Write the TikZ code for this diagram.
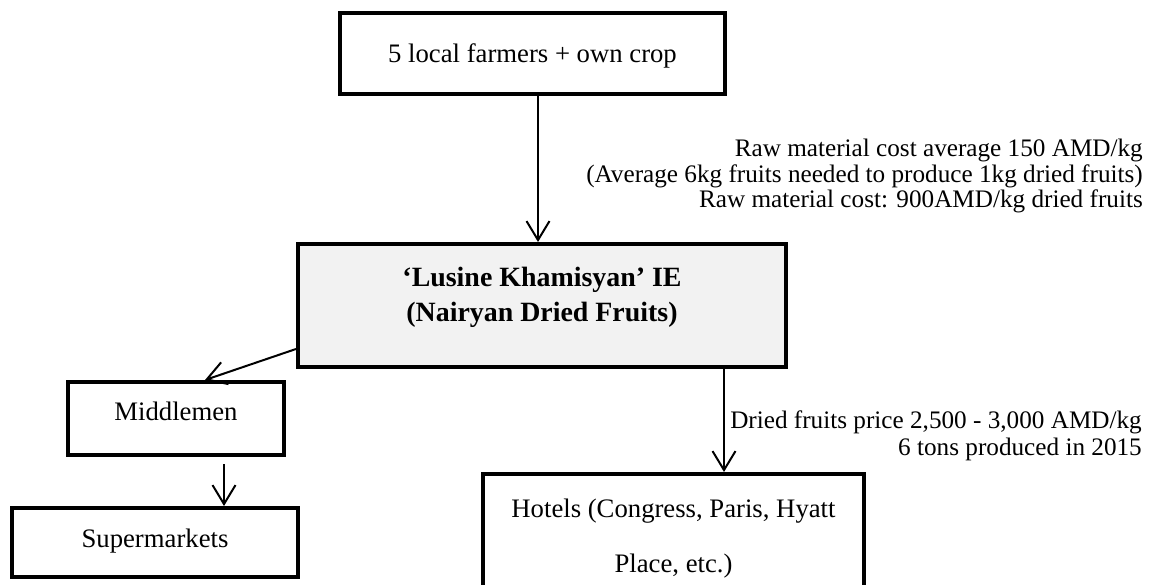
\documentclass[tikz,border=0pt]{standalone}
\usepackage{fontspec}
\setmainfont{Liberation Serif}
\usetikzlibrary{arrows.meta}
\definecolor{boxgray}{HTML}{F2F2F2}
\tikzset{
  box/.style={draw=black, line width=4pt, rectangle, inner sep=0pt, align=center,
    font=\fontsize{26.7}{30}\selectfont},
  arr/.style={draw=black, line width=2pt, -{Straight Barb[length=19pt,width=23pt]}},
  note/.style={inner sep=0pt, align=right, font=\fontsize{25.2}{25.5}\selectfont},
}
\begin{document}
\begin{tikzpicture}[x=1pt,y=-1pt]
\fill[white] (0,0) rectangle (1154,585);
\clip (0,0) rectangle (1154,585);
% boxes
\node[box, minimum width=385pt, minimum height=81pt, text height=20pt, text depth=1pt]
  (top) at (532.5,53.5) {5 local farmers + own crop};
\node[box, fill=boxgray, minimum width=488pt, minimum height=123pt,
  font=\fontsize{27.9}{35}\selectfont\bfseries, text height=45pt, text depth=12pt]
  (main) at (542,305.5) {‘Lusine Khamisyan’ IE\\(Nairyan Dried Fruits)};
\node[box, minimum width=216pt, minimum height=73pt, text height=18pt, text depth=15pt]
  (mid) at (176,418.5) {Middlemen};
\node[box, minimum width=286pt, minimum height=69pt, text height=18pt, text depth=9pt]
  (sup) at (155,542.5) {Supermarkets};
\node[box, minimum width=381pt, minimum height=140pt,
  font=\fontsize{26.7}{55}\selectfont, text height=70pt, text depth=14pt]
  (hot) at (673.5,544) {Hotels (Congress, Paris, Hyatt\\Place, etc.)};
% connectors
\draw[arr] ([xshift=5.5pt]top.south) -- ([xshift=-4pt]main.north);
\draw[arr] ([yshift=-43.5pt]main.west) -- ([xshift=29pt]mid.north);
\draw[arr] ([xshift=48pt,yshift=-7pt]mid.south) -- ([xshift=69pt]sup.north);
\draw[arr] ([xshift=182pt]main.south) -- ([xshift=50.5pt]hot.north);
% notes
\node[note, anchor=base east] (rawnote) at (1143,208)
  {Raw material cost average 150 AMD/kg\\(Average 6kg fruits needed to produce 1kg dried fruits)\\Raw material cost: 900AMD/kg dried fruits};
\node[note, anchor=base east, font=\fontsize{25.2}{27}\selectfont] (pricenote) at (1142,455)
  {Dried fruits price 2,500 - 3,000 AMD/kg\\6 tons produced in 2015};
\end{tikzpicture}
\end{document}
